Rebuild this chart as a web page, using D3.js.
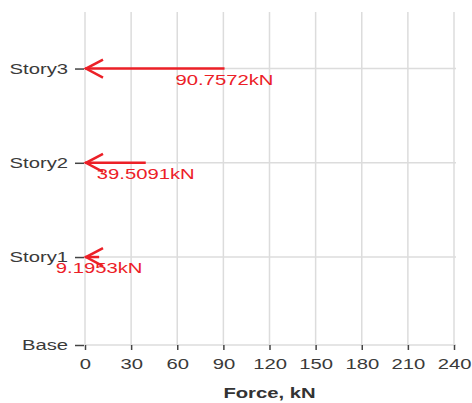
<!DOCTYPE html>
<html>
<head>
<meta charset="utf-8">
<script src="https://cdn.jsdelivr.net/npm/d3@7"></script>
<style>
  body { margin: 0; background: #fff; }
  svg { display: block; font-family: "Liberation Sans", Arial, sans-serif; }
</style>
</head>
<body>
<div id="chart"></div>
<script>
// story data
var stories = ["Base", "Story1", "Story2", "Story3"];
var elevations = [0, 2.8, 5.8, 8.8];
var forces = [null, 9.1953, 39.5091, 90.7572];
var xTicks = [0, 30, 60, 90, 120, 150, 180, 210, 240];

var W = 472, H = 403;
var sx = 1.35; // reference text looks stretched sideways

var svg = d3.select("#chart").append("svg")
    .attr("width", W)
    .attr("height", H);

var x = d3.scaleLinear().domain([0, 240]).range([85, 454]);
var y = d3.scaleLinear().domain([0, 10.6]).range([345, 12]);

function stretch(sel) {
    sel.each(function() {
        var t = d3.select(this);
        var xv = +t.attr("x") || 0;
        t.attr("x", xv / sx).attr("transform", "scale(" + sx + ",1)");
    });
}

// grid
svg.append("g").selectAll("line").data(xTicks).enter().append("line")
    .attr("x1", d => x(d)).attr("x2", d => x(d))
    .attr("y1", y(10.6)).attr("y2", y(0))
    .attr("stroke", "#dcdcdc").attr("stroke-width", 1.5);

svg.append("g").selectAll("line").data(elevations).enter().append("line")
    .attr("x1", x(0)).attr("x2", x(240) + 2)
    .attr("y1", d => y(d)).attr("y2", d => y(d))
    .attr("stroke", "#dcdcdc").attr("stroke-width", 1.5);

// axes
var xAxis = svg.append("g")
    .attr("transform", "translate(0," + y(0) + ")")
    .call(d3.axisBottom(x).tickValues(xTicks).tickSize(5).tickPadding(8));
xAxis.select(".domain").remove();
xAxis.selectAll("line").attr("stroke", "#444").attr("stroke-width", 1.5);
xAxis.selectAll("text").attr("font-size", 15).attr("fill", "#3a3a3a")
    .attr("font-family", "Liberation Sans, Arial, sans-serif");
stretch(xAxis.selectAll("text"));

var yAxis = svg.append("g")
    .attr("transform", "translate(" + (x(0) - 1) + ",0)")
    .call(d3.axisLeft(y).tickValues(elevations).tickFormat((d, i) => stories[i])
        .tickSize(9).tickPadding(7));
yAxis.select(".domain").remove();
yAxis.selectAll("line").attr("stroke", "#444").attr("stroke-width", 1.5);
yAxis.selectAll("text").attr("font-size", 15).attr("fill", "#3a3a3a")
    .attr("font-family", "Liberation Sans, Arial, sans-serif");
stretch(yAxis.selectAll("text"));

// axis title
svg.append("text")
    .attr("x", (x(0) + x(240)) / 2 / sx)
    .attr("y", 398)
    .attr("transform", "scale(" + sx + ",1)")
    .attr("text-anchor", "middle")
    .attr("font-size", 15)
    .attr("font-weight", "bold")
    .attr("fill", "#333")
    .text("Force, kN");

// force arrows
var loads = stories.map((s, i) => ({ story: s, elev: elevations[i], f: forces[i] }))
    .filter(d => d.f != null);

var red = "#ec2027";
var arrows = svg.append("g").selectAll("g").data(loads).enter().append("g");

arrows.append("line")
    .attr("x1", d => x(d.f)).attr("x2", x(0))
    .attr("y1", d => y(d.elev)).attr("y2", d => y(d.elev))
    .attr("stroke", red).attr("stroke-width", 2.5);

arrows.append("path")
    .attr("d", d => "M" + (x(0) + 18) + "," + (y(d.elev) - 9) + "L" + (x(0) + 1) + "," + y(d.elev) +
        "L" + (x(0) + 18) + "," + (y(d.elev) + 9))
    .attr("fill", "none").attr("stroke", red).attr("stroke-width", 2.5);

arrows.append("text")
    .attr("x", d => x(d.f) / sx)
    .attr("y", d => y(d.elev) + 16)
    .attr("transform", "scale(" + sx + ",1)")
    .attr("text-anchor", "middle")
    .attr("font-size", 15)
    .attr("fill", red)
    .text(d => d.f.toFixed(4) + "kN");
</script>
</body>
</html>
